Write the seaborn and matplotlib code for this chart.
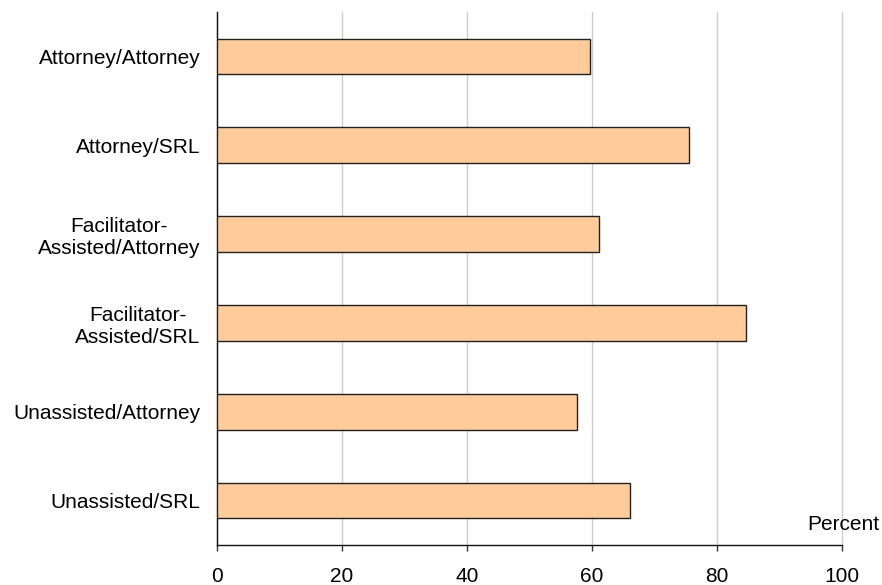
import matplotlib
matplotlib.use("Agg")
import matplotlib.pyplot as plt
import seaborn as sns
import pandas as pd

# Categories and values
categories = [
    "Attorney/Attorney",
    "Attorney/SRL",
    "Facilitator-\nAssisted/Attorney",
    "Facilitator-\nAssisted/SRL",
    "Unassisted/Attorney",
    "Unassisted/SRL",
]
percent = [59.6, 75.5, 61.1, 84.6, 57.6, 66.0]
x_ticks = [0, 20, 40, 60, 80, 100]


def main():
    df = pd.DataFrame({"group": categories, "percent": percent})

    sns.set_style("white")
    plt.rcParams["font.family"] = ["Liberation Sans", "DejaVu Sans"]
    plt.rcParams["text.color"] = "black"
    fs = 15

    fig = plt.figure(figsize=(8.82, 5.85), dpi=100)
    ax = fig.add_axes([217 / 882, 40 / 585, 625 / 882, 533 / 585])

    sns.barplot(
        data=df, x="percent", y="group", orient="h",
        color="#FFCC99", edgecolor="#222222", linewidth=1.0,
        width=0.4, saturation=1, ax=ax, zorder=3,
    )

    ax.set_xlim(0, 100)
    ax.set_ylim(len(categories) - 0.5, -0.5)
    ax.set_xticks(x_ticks)
    ax.set_xticklabels([str(t) for t in x_ticks], fontsize=fs)
    ax.tick_params(axis="y", length=0, labelsize=fs, pad=12,
                   labelcolor="black")
    ax.tick_params(axis="x", direction="out", length=4.5, width=1,
                   color="#333333", pad=11, bottom=True, labelcolor="black")
    for lbl in ax.get_yticklabels():
        lbl.set_horizontalalignment("right")
        lbl.set_multialignment("center")

    ax.xaxis.grid(True, color="#cccccc", linewidth=1, zorder=0)
    for gl in ax.get_xgridlines():
        gl.set_clip_on(False)
    ax.yaxis.grid(False)
    ax.set_axisbelow(True)

    for side in ["top", "right"]:
        ax.spines[side].set_visible(False)
    ax.spines["left"].set_color("#111111")
    ax.spines["bottom"].set_color("#111111")
    ax.spines["left"].set_linewidth(1)
    ax.spines["bottom"].set_linewidth(1)

    ax.set_xlabel("")
    ax.set_ylabel("")
    fig.text(879 / 882, 1 - 524 / 585, "Percent", ha="right", va="center",
             fontsize=fs, color="black")

    fig.savefig("out.png", dpi=100)
    plt.close(fig)


if __name__ == "__main__":
    main()
